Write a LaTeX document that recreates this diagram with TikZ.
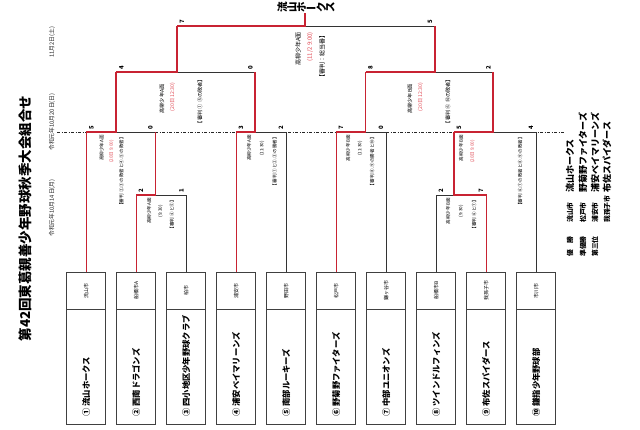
\documentclass[tikz,border=0pt]{standalone}
\usepackage{fontspec}
\newfontfamily\jp{Noto Sans CJK JP}
\definecolor{bred}{RGB}{200,35,50}
\definecolor{tred}{RGB}{225,75,85}
\tikzset{
  redline/.style={draw=bred, line width=1.3pt},
  blkline/.style={draw=black!80, line width=0.6pt},
  dashline/.style={draw=black!85, line width=0.8pt, dash pattern=on 3pt off 1.5pt on 1pt off 1.5pt},
  citybox/.style={draw=black!75, line width=0.6pt, minimum width=39pt, minimum height=36.3pt, inner sep=0pt, font=\jp\fontsize{5}{5}\selectfont},
  namebox/.style={draw=black!75, line width=0.6pt, minimum width=39pt, minimum height=115pt, inner sep=0pt},
  rot/.style={rotate=90, inner sep=0pt},
  namet/.style={rot, anchor=west, font=\jp\bfseries\fontsize{8.3}{9}\selectfont},
  score/.style={rot, font=\jp\bfseries\fontsize{6}{6}\selectfont},
  info/.style={rot, anchor=east, font=\jp\fontsize{4.6}{5}\selectfont},
  infor/.style={info, text=tred},
  sinfo/.style={rot, font=\jp\fontsize{5.2}{5.5}\selectfont},
  sinfor/.style={sinfo, text=tred},
  finfo/.style={rot, anchor=east, font=\jp\fontsize{6}{6.5}\selectfont},
  finfor/.style={finfo, text=tred},
  datet/.style={rot, font=\jp\fontsize{5.8}{6}\selectfont, text=black!85},
  legt/.style={rot, anchor=west, font=\jp\bfseries\fontsize{6.8}{7}\selectfont},
  legn/.style={rot, anchor=west, font=\jp\bfseries\fontsize{9}{9.5}\selectfont},
}
\begin{document}
\begin{tikzpicture}[x=1pt,y=-1pt]
\useasboundingbox (0,0) rectangle (640,430);
\fill[white] (0,0) rectangle (640,430);

% title and dates
\node[rot, font=\jp\bfseries\fontsize{13.5}{14}\selectfont] (title) at (25,218.5) {第42回東葛親善少年野球秋季大会組合せ};
\node[datet] (d1) at (52,208) {令和元年10月14日(月)};
\node[datet] (d2) at (52,122) {令和元年10月20日(日)};
\node[datet] (d3) at (52,42) {11月2日(土)};

% dashed round line
\coordinate (dl) at (57,132);
\coordinate (dr) at (565,132);
\draw[dashline] (dl) -- (dr);

% team boxes
\foreach \i/\city/\team in {1/流山市/① 流山ホークス, 2/船橋市A/② 西南ドラゴンズ, 3/柏市/③ 四小地区少年野球クラブ,
  4/浦安市/④ 浦安ベイマリーンズ, 5/野田市/⑤ 南部ルーキーズ, 6/松戸市/⑥ 野菊野ファイターズ,
  7/鎌ヶ谷市/⑦ 中部ユニオンズ, 8/船橋市B/⑧ ツインドルフィンズ, 9/我孫子市/⑨ 布佐スパイダース,
  10/市川市/⑩ 鎌指少年野球部}{
  \node[citybox] (t\i) at ({86.2+50*(\i-1)},290.85) {\rotatebox{90}{\city}};
  \node[namebox] (n\i) at ({86.2+50*(\i-1)},366.5) {};
  \node[namet] (nt\i) at ({86.2+50*(\i-1)},417) {\team};
}

% junction coordinates
\coordinate (mB) at (155.7,195);  \coordinate (uB) at (155.7,132);
\coordinate (mA) at (116,132);    \coordinate (uA) at (116,72);
\coordinate (mC) at (255,132);    \coordinate (uC) at (255,72);
\coordinate (mD) at (365.5,132);  \coordinate (uD) at (365.5,72);
\coordinate (mE) at (454,195);    \coordinate (uE) at (454,132);
\coordinate (mF) at (493,132);    \coordinate (uF) at (493,72);
\coordinate (mSL) at (177,72);    \coordinate (uSL) at (177,26);
\coordinate (mSR) at (435,72);    \coordinate (uSR) at (435,26);
\coordinate (mFin) at (305,26);

% champion
\node[inner sep=0pt, font=\jp\bfseries\fontsize{10.5}{11}\selectfont] (champ) at (306,7)
  {\rotatebox{90}{流}\rotatebox{90}{山}\rotatebox{90}{ホ}ー\rotatebox{90}{ク}\rotatebox{90}{ス}};
\coordinate (cbot) at (305,13);

% bracket lines: black parts first
\draw[blkline] (t3.north) |- (mB);
\draw[blkline] (uB) -- (mA);
\draw[blkline] (t5.north) |- (mC);
\draw[blkline] (t7.north) |- (mD);
\draw[blkline] (t8.north) |- (mE);
\draw[blkline] (t10.north) |- (mF);
\draw[blkline] (uC) -- (mSL);
\draw[blkline] (uF) -- (mSR);
\draw[blkline] (uSR) -- (mFin);
% red winner paths
\draw[redline] (t2.north) |- (mB) -- (uB);
\draw[redline] (t1.north) |- (mA) -- (uA);
\draw[redline] (t4.north) |- (mC) -- (uC);
\draw[redline] (t6.north) |- (mD) -- (uD);
\draw[redline] (t9.north) |- (mE) -- (uE);
\draw[redline] (uE) -- (mF) -- (uF);
\draw[redline] (uA) -- (mSL) -- (uSL);
\draw[redline] (uD) -- (mSR) -- (uSR);
\draw[redline] (uSL) -- (mFin) -- (cbot);

% scores
\node[score] (sA1) at (91.5,127.5) {5};   \node[score] (sA2) at (150.5,127.5) {0};
\node[score] (sB1) at (141,191) {2};      \node[score] (sB2) at (181.5,191) {1};
\node[score] (sC1) at (241,127.5) {3};    \node[score] (sC2) at (281,127.5) {2};
\node[score] (sD1) at (341,127.5) {7};    \node[score] (sD2) at (381,127.5) {0};
\node[score] (sE1) at (441,191) {2};      \node[score] (sE2) at (481,191) {7};
\node[score] (sF1) at (459,127.5) {5};    \node[score] (sF2) at (531,127.5) {4};
\node[score] (sL1) at (121.5,67.5) {4};   \node[score] (sL2) at (250.5,67.5) {0};
\node[score] (sR1) at (370.5,67.5) {8};   \node[score] (sR2) at (488.5,67.5) {2};
\node[score] (sX1) at (182,21.5) {7};     \node[score] (sX2) at (430,21.5) {5};

% match info, first round
\node[info] (iA1) at (101.5,135) {高柳少年A面};
\node[infor] (iA2) at (111.5,140) {(20日 9:00)};
\node[info] (iA3) at (121.5,135) {【審判 ②.③の敗者と④.⑤の敗者】};
\node[info] (iB1) at (149,198) {高柳少年A面};
\node[info] (iB2) at (160.5,205) {(9:30)};
\node[info] (iB3) at (172,198) {【審判 ④と⑤】};
\node[info] (iC1) at (249,135) {高柳少年A面};
\node[info] (iC2) at (262,141) {(11:30)};
\node[info] (iC3) at (274.5,135) {【審判 ①と②.③の勝者】};
\node[info] (iD1) at (348,135) {高柳少年B面};
\node[info] (iD2) at (360,141) {(11:30)};
\node[info] (iD3) at (372,135) {【審判 ⑧.⑨の勝者と⑩】};
\node[info] (iE1) at (448,198) {高柳少年B面};
\node[info] (iE2) at (461,205) {(9:30)};
\node[info] (iE3) at (474,198) {【審判 ⑥と⑦】};
\node[info] (iF1) at (461,135) {高柳少年B面};
\node[infor] (iF2) at (472.5,140) {(20日 9:00)};
\node[info] (iF3) at (520,135) {【審判 ⑥.⑦の敗者と⑧.⑨の敗者】};

% semifinals
\node[sinfo] (iL1) at (162,99) {高柳少年A面};
\node[sinfor] (iL2) at (172.5,97) {(20日 12:30)};
\node[sinfo] (iL3) at (200,101.5) {【審判 ①~⑤の敗者】};
\node[sinfo] (iR1) at (410,99) {高柳少年B面};
\node[sinfor] (iR2) at (420.5,97) {(20日 12:30)};
\node[sinfo] (iR3) at (448,101.5) {【審判 ⑥~⑩の敗者】};

% final
\node[finfo] (iX1) at (298,32) {高柳少年A面};
\node[finfor] (iX2) at (310,32) {(11/2 9:00)};
\node[finfo] (iX3) at (322,32) {【審判：総当番】};

% legend
\node[legt] (g1a) at (570,257) {優　勝};
\node[legt] (g1b) at (570,223) {流山市};
\node[legn] (g1c) at (570,193) {流山ホークス};
\node[legt] (g2a) at (583,257) {準優勝};
\node[legt] (g2b) at (583,223) {松戸市};
\node[legn] (g2c) at (583,193) {野菊野ファイターズ};
\node[legt] (g3a) at (595,257) {第三位};
\node[legt] (g3b) at (595,223) {浦安市};
\node[legn] (g3c) at (595,193) {浦安ベイマリーンズ};
\node[legt] (g4b) at (607,223) {我孫子市};
\node[legn] (g4c) at (607,193) {布佐スパイダース};
\end{tikzpicture}
\end{document}
